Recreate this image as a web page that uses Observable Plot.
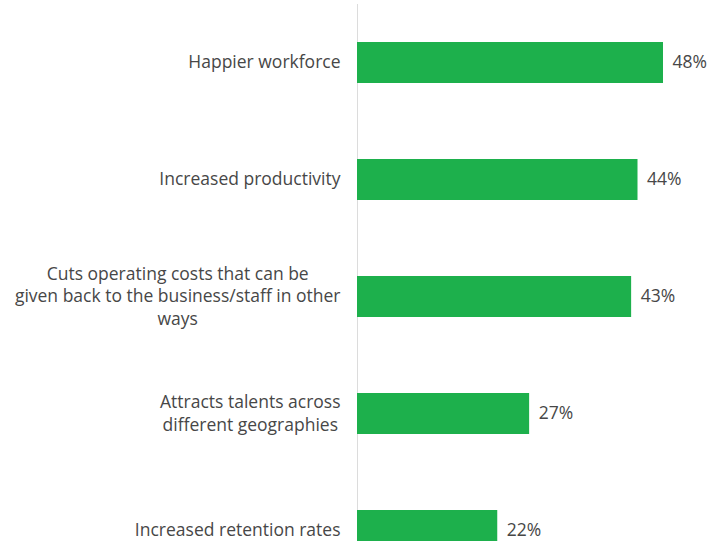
<!DOCTYPE html>
<html>
<head>
<meta charset="utf-8">
<script src="https://cdn.jsdelivr.net/npm/d3@7"></script>
<script src="https://cdn.jsdelivr.net/npm/@observablehq/plot@0.6"></script>
<style>
  html, body { margin: 0; padding: 0; background: #fff; }
  #chart { width: 711px; height: 541px; overflow: hidden; }
  #chart svg { display: block; }
</style>
</head>
<body>
<div id="chart"></div>
<script>
// Reasons given for benefits of flexible working (share of respondents, %)
const reasons = [
  "Happier workforce",
  "Increased productivity",
  "Cuts operating costs that can be\ngiven back to the business/staff in other\nways",
  "Attracts talents across\ndifferent geographies",
  "Increased retention rates"
];
const shares = [48, 44, 43, 27, 22];

const data = reasons.map((reason, i) => ({reason, share: shares[i]}));

const fontFamily = "'Open Sans', 'Noto Sans', sans-serif";
const fontSize = 17.5;
const fontWeight = 400;
const textColor = "#474747";
const labelGap = 17;

// Widest line of a label, so each multi-line label can be centred as a block
// whose right edge sits next to the axis.
const ctx = document.createElement("canvas").getContext("2d");
ctx.font = `${fontWeight} ${fontSize}px ${fontFamily}`;
const blockWidth = s => d3.max(s.split("\n"), line => ctx.measureText(line).width);

const labelMarks = data.map(d => Plot.text([d], {
  x: 0, y: "reason", text: "reason",
  textAnchor: "middle", dx: -labelGap - blockWidth(d.reason) / 2, dy: -2,
  lineHeight: 1.29, fill: textColor, fontWeight
}));

// The plot runs past the bottom edge, so the last bar is cut off.
const chart = Plot.plot({
  width: 711,
  height: 541,
  marginLeft: 357,
  marginRight: 48,
  marginTop: 4,
  marginBottom: -48,
  style: {fontFamily, fontSize: `${fontSize}px`, background: "#fff", overflow: "hidden"},
  x: {domain: [0, 48], axis: null},
  y: {domain: reasons, axis: null, paddingInner: 0.65, paddingOuter: 0.325},
  marks: [
    Plot.ruleX([0], {stroke: "#dcdcdc", strokeWidth: 1}),
    Plot.barX(data, {x: "share", y: "reason", fill: "#1db04c"}),
    ...labelMarks,
    Plot.text(data, {
      x: "share", y: "reason", text: d => `${d.share}%`,
      textAnchor: "start", dx: 9, dy: -1, fill: textColor, fontWeight
    })
  ]
});

document.getElementById("chart").appendChild(chart);
</script>
</body>
</html>
